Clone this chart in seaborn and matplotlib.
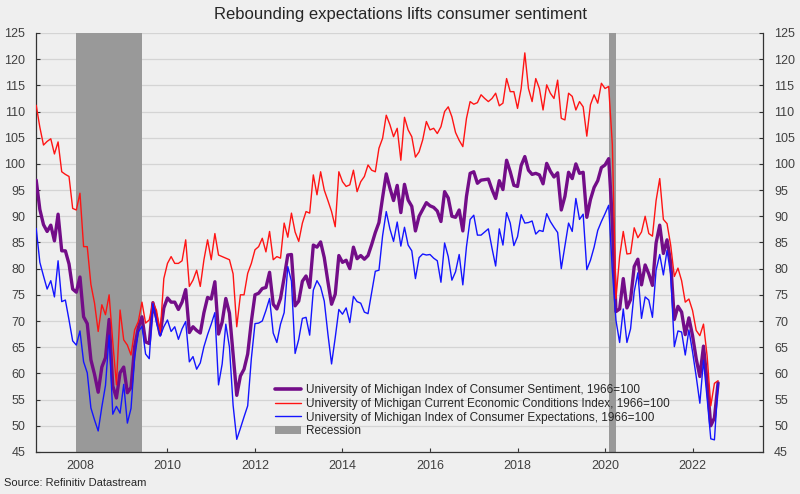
import numpy as np
import pandas as pd
import matplotlib
matplotlib.use("Agg")
import matplotlib.pyplot as plt
from matplotlib.lines import Line2D
from matplotlib.patches import Patch
import seaborn as sns

# ---------------- data (monthly, Jan 2007 - Aug 2022) ----------------
start_year = 2007
sentiment = [
    96.9, 91.3, 88.4, 87.1, 88.3, 85.3, 90.4, 83.4, 83.4, 80.9, 76.1, 75.5,
    78.4, 70.8, 69.5, 62.6, 59.8, 56.4, 61.2, 63.0, 70.3, 57.6, 55.3, 60.1,
    61.2, 56.3, 57.3, 65.1, 68.7, 70.8, 66.0, 65.7, 73.5, 70.6, 67.4, 72.5,
    74.4, 73.6, 73.6, 72.2, 73.6, 76.0, 67.8, 68.9, 68.2, 67.7, 71.6, 74.5,
    74.2, 77.5, 67.5, 69.8, 74.3, 71.5, 63.7, 55.8, 59.5, 60.8, 63.7, 69.9,
    75.0, 75.3, 76.2, 76.4, 79.3, 73.2, 72.3, 74.3, 78.3, 82.6, 82.7, 72.9,
    73.8, 77.6, 78.6, 76.4, 84.5, 84.1, 85.1, 82.1, 77.5, 73.2, 75.1, 82.5,
    81.2, 81.6, 80.0, 84.1, 81.9, 82.5, 81.8, 82.5, 84.6, 86.9, 88.8, 93.6,
    98.1, 95.4, 93.0, 95.9, 90.7, 96.1, 93.1, 91.9, 87.2, 90.0, 91.3, 92.6,
    92.0, 91.7, 91.0, 89.0, 94.7, 93.5, 90.0, 89.8, 91.2, 87.2, 93.8, 98.2,
    98.5, 96.3, 96.9, 97.0, 97.1, 95.1, 93.4, 96.8, 95.1, 100.7, 98.5, 95.9,
    95.7, 99.7, 101.4, 98.8, 98.0, 98.2, 97.9, 96.2, 100.1, 98.6, 97.5, 98.3,
    91.2, 93.8, 98.4, 97.2, 100.0, 98.2, 98.4, 89.8, 93.2, 95.5, 96.8, 99.3,
    99.8, 101.0, 89.1, 71.8, 72.3, 78.1, 72.5, 74.1, 80.4, 81.8, 76.9, 80.7,
    79.0, 76.8, 84.9, 88.3, 82.9, 85.5, 81.2, 70.3, 72.8, 71.7, 67.4, 70.6,
    67.2, 62.8, 59.4, 65.2, 58.4, 50.0, 51.5, 58.2,
]
current = [
    111.2, 107.0, 103.6, 104.3, 104.8, 101.9, 104.2, 98.5, 98.0, 97.6, 91.5, 91.2,
    94.4, 84.2, 84.2, 77.0, 73.4, 68.0, 73.1, 71.2, 75.0, 66.0, 57.8, 72.1,
    66.4, 65.4, 63.5, 68.3, 69.9, 73.6, 69.6, 70.2, 73.6, 72.0, 67.8, 78.1,
    81.0, 82.3, 81.0, 81.0, 81.5, 85.5, 76.6, 77.8, 79.7, 76.6, 81.7, 85.5,
    81.7, 86.7, 82.6, 82.3, 82.0, 81.7, 79.0, 68.9, 75.0, 75.0, 79.1, 81.0,
    83.6, 84.2, 85.8, 83.2, 87.1, 81.7, 82.3, 82.0, 88.7, 86.0, 90.6, 87.0,
    85.2, 88.7, 90.9, 90.6, 97.9, 94.1, 98.5, 95.0, 93.0, 90.9, 88.0, 98.5,
    96.6, 95.7, 96.0, 98.8, 94.7, 96.6, 97.6, 99.8, 98.8, 98.5, 103.0, 104.9,
    109.3, 107.5, 105.2, 106.8, 100.7, 108.9, 106.5, 105.2, 101.3, 102.3, 104.6, 108.1,
    106.5, 106.8, 105.8, 107.1, 110.0, 110.9, 109.0, 106.0, 104.5, 103.3, 108.7, 111.9,
    111.4, 111.7, 113.2, 112.5, 111.9, 112.5, 113.5, 111.1, 111.6, 116.3, 113.8, 113.8,
    110.6, 114.4, 121.2, 114.4, 111.9, 116.3, 114.4, 110.3, 115.1, 113.5, 112.5, 116.0,
    108.7, 108.4, 113.5, 112.9, 110.3, 111.9, 110.9, 105.3, 111.3, 113.2, 111.6, 115.4,
    114.4, 114.8, 103.7, 74.3, 82.3, 87.1, 82.8, 82.9, 87.8, 85.9, 87.0, 90.0,
    86.7, 86.2, 93.0, 97.2, 89.4, 88.6, 84.5, 78.5, 80.1, 77.7, 73.6, 74.2,
    72.0, 68.2, 67.2, 69.4, 63.3, 53.8, 58.1, 58.6,
]
expectations = [
    87.7, 81.2, 78.6, 76.1, 77.7, 74.6, 81.5, 73.7, 74.0, 70.2, 66.2, 65.4,
    68.1, 62.2, 60.1, 53.4, 51.1, 49.0, 53.6, 57.7, 67.3, 52.2, 53.7, 52.4,
    57.9, 50.5, 53.3, 63.0, 67.9, 69.0, 63.7, 62.8, 73.4, 69.7, 67.1, 68.9,
    70.2, 68.0, 68.9, 66.5, 68.5, 69.9, 62.2, 63.2, 60.8, 62.0, 65.1, 67.4,
    69.4, 71.6, 57.8, 61.8, 69.4, 65.0, 53.9, 47.4, 49.5, 51.7, 53.8, 62.8,
    69.5, 69.6, 70.0, 72.0, 74.3, 67.7, 65.9, 69.4, 71.6, 80.4, 77.6, 63.8,
    66.5, 70.5, 70.7, 67.3, 75.9, 77.7, 76.5, 73.8, 67.5, 61.8, 66.8, 72.2,
    71.3, 72.5, 69.7, 74.7, 73.7, 73.4, 71.7, 71.4, 75.5, 79.5, 79.7, 86.3,
    90.9, 87.6, 85.2, 88.9, 84.3, 87.9, 84.5, 83.4, 78.1, 82.1, 82.8, 82.6,
    82.7, 82.0, 81.5, 77.4, 84.9, 82.3, 77.8, 79.4, 82.7, 76.9, 84.2, 89.4,
    90.2, 86.4, 86.4, 87.0, 87.6, 83.9, 80.5, 87.6, 84.5, 90.7, 88.7, 84.4,
    86.1, 90.3, 88.7, 88.8, 89.1, 86.6, 87.3, 87.1, 90.5, 89.0, 87.9, 86.9,
    80.0, 84.4, 88.7, 87.1, 93.4, 89.4, 90.4, 79.8, 81.6, 84.1, 87.3, 89.0,
    90.5, 92.1, 79.7, 70.1, 65.9, 72.3, 65.9, 68.5, 75.6, 79.2, 70.5, 74.6,
    74.0, 70.7, 79.7, 82.7, 78.8, 83.5, 79.0, 65.1, 68.1, 67.9, 63.5, 68.3,
    64.1, 59.4, 54.3, 62.5, 55.2, 47.5, 47.3, 58.0,
]
recession_starts = [2007 + 11 / 12, 2020 + 1 / 12]
recession_ends = [2009 + 5 / 12, 2020 + 3 / 12]
labels = [
    "University of Michigan Index of Consumer Sentiment, 1966=100",
    "University of Michigan Current Economic Conditions Index, 1966=100",
    "University of Michigan Index of Consumer Expectations, 1966=100",
    "Recession",
]
x_ticks = [2008, 2010, 2012, 2014, 2016, 2018, 2020, 2022]
y_ticks = list(range(45, 130, 5))

# ---------------- styling ----------------
sns.set_style("white")
plt.rcParams["font.family"] = ["Liberation Sans", "DejaVu Sans"]

BG = "#EFEFEF"
C_SENT = "#730D88"
C_CUR = "#FF1414"
C_EXP = "#1414FF"
C_REC = "#999999"
TXT = "#404040"

n = len(sentiment)
dates = start_year + np.arange(n) / 12.0
df = pd.DataFrame({"date": dates, "sent": sentiment, "cur": current, "exp": expectations})

fig = plt.figure(figsize=(8, 4.94), dpi=100)
fig.patch.set_facecolor(BG)
ax = fig.add_axes([0.04525, 0.0852, 0.9085, 0.848])
ax.set_facecolor(BG)

ax.set_axisbelow(True)
ax.grid(axis="y", color="#D4D4D4", lw=0.9, zorder=0)
ax.grid(axis="x", visible=False)

for s, e in zip(recession_starts, recession_ends):
    ax.axvspan(s, e, color=C_REC, lw=0, zorder=1)

sns.lineplot(data=df, x="date", y="sent", ax=ax, color=C_SENT, lw=2.4, zorder=3)
sns.lineplot(data=df, x="date", y="cur", ax=ax, color=C_CUR, lw=1.0, zorder=3)
sns.lineplot(data=df, x="date", y="exp", ax=ax, color=C_EXP, lw=1.0, zorder=3)

ax.set_xlim(2007.0, 2023.61)
ax.set_ylim(45, 125)
ax.set_xticks(x_ticks)
ax.set_xticklabels([str(t) for t in x_ticks])
ax.set_yticks(y_ticks)
ax.set_yticklabels([str(t) for t in y_ticks])
ax.set_xlabel("")
ax.set_ylabel("")

ax.tick_params(axis="y", which="both", left=True, right=True, labelleft=True,
               labelright=True, direction="in", length=3, width=0.8,
               colors="#333333", labelcolor=TXT, labelsize=9, pad=8)
ax.tick_params(axis="x", bottom=True, direction="in", length=3, width=0.8,
               colors="#333333", labelcolor=TXT, labelsize=9, pad=6)

for side in ["left", "right", "bottom"]:
    ax.spines[side].set_visible(True)
    ax.spines[side].set_color("#333333")
    ax.spines[side].set_linewidth(0.9)
ax.spines["top"].set_visible(False)

handles = [
    Line2D([0], [0], color=C_SENT, lw=2.6),
    Line2D([0], [0], color=C_CUR, lw=1.0),
    Line2D([0], [0], color=C_EXP, lw=1.0),
    Patch(facecolor=C_REC, edgecolor="none"),
]
leg = fig.legend(handles, labels, loc="upper left",
                 bbox_to_anchor=(275 / 800, 1 - 384 / 494),
                 frameon=False, fontsize=8.5, labelspacing=0.15,
                 handlelength=2.2, handleheight=0.7, handletextpad=0.4,
                 borderpad=0, borderaxespad=0)
for t in leg.get_texts():
    t.set_color("#262626")

fig.text(0.5, 1 - 14 / 494, "Rebounding expectations lifts consumer sentiment",
         ha="center", va="center", fontsize=12, color="#262626")
fig.text(4 / 800, 1 - 483 / 494, "Source: Refinitiv Datastream",
         ha="left", va="center", fontsize=8, color="#262626")

fig.savefig("out.png", dpi=100, facecolor=BG)
